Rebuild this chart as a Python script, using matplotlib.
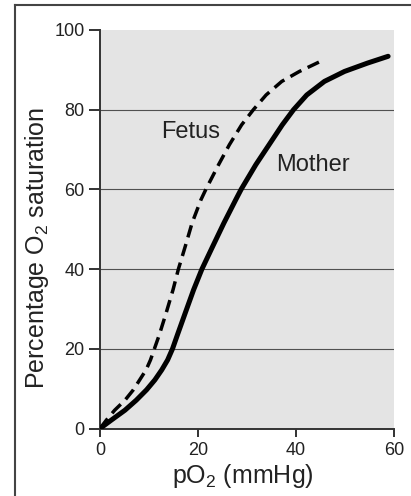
import matplotlib
matplotlib.use("Agg")
import matplotlib.pyplot as plt
from matplotlib.lines import Line2D

plt.rcParams['font.family'] = ['Liberation Sans', 'DejaVu Sans']
plt.rcParams['mathtext.fontset'] = 'custom'
plt.rcParams['mathtext.rm'] = 'Liberation Sans'
plt.rcParams['mathtext.it'] = 'Liberation Sans'
plt.rcParams['mathtext.default'] = 'regular'

# values
mother_po2 = [0, 2.3, 5.1, 7.4, 9.5, 11.2, 12.6, 13.8, 14.8, 15.8, 17.4, 19.1, 20.8,
              23.0, 25.3, 27.7, 28.8, 31.8, 34.5, 37.2, 39.5, 42.2, 45.8, 49.9, 54.6, 58.8]
mother_sat = [0, 2.1, 4.6, 7.1, 9.7, 12.2, 14.7, 17.2, 20, 23.5, 29, 34.8, 40,
              45.7, 51.6, 57.4, 60, 66.2, 71.2, 76.2, 80, 83.7, 87.1, 89.6, 91.7, 93.4]

fetus_po2 = [0, 1.3, 3.0, 5.1, 6.8, 8.1, 9.4, 10.3, 11.1, 12.1, 13.5, 14.9, 16.0,
             17.4, 18.8, 20.6, 21.6, 24.2, 26.4, 28.9, 31.3, 33.9, 37.1, 40.7, 45.8]
fetus_sat = [0, 2.1, 4.6, 7.1, 9.7, 12.2, 14.7, 17.2, 20, 23.5, 29, 34.8, 40,
             45.7, 51.6, 57.4, 60, 66.2, 71.2, 76.2, 80, 83.7, 87.1, 89.6, 92.6]

x_ticks = [0, 20, 40, 60]
y_ticks = [0, 20, 40, 60, 80, 100]
grid_levels = [20, 40, 60, 80]

fig = plt.figure(figsize=(4.11, 4.96), dpi=100)
ax = fig.add_axes([100/411, 1 - 428.5/496, 294/411, 398.5/496])
ax.set_facecolor('#e4e4e4')

for g in grid_levels:
    ax.axhline(g, color='#505050', lw=0.8, zorder=1)

ax.plot(fetus_po2, fetus_sat, color='black', lw=2.5, dashes=(3.6, 2.0),
        solid_capstyle='butt', zorder=3)
ax.plot(mother_po2, mother_sat, color='black', lw=3.6, solid_capstyle='round',
        solid_joinstyle='round', zorder=3)

ax.text(18.4, 74.5, 'Fetus', fontsize=17, color='#222222', ha='center', va='center')
ax.text(43.5, 66, 'Mother', fontsize=17, color='#222222', ha='center', va='center')

ax.set_xlim(0, 60)
ax.set_ylim(0, 100)
ax.set_xticks(x_ticks)
ax.set_yticks(y_ticks)
ax.tick_params(axis='y', length=8, width=1.3, labelsize=13, colors='#222222', pad=3)
ax.tick_params(axis='x', length=6, width=1.3, labelsize=13, colors='#222222', pad=4)
for s in ['top', 'right']:
    ax.spines[s].set_visible(False)
for s in ['left', 'bottom']:
    ax.spines[s].set_linewidth(1.4)
    ax.spines[s].set_color('#333333')

fig.text(37/411, 1 - 248/496, 'Percentage O$_2$ saturation', rotation=90,
         fontsize=18, color='#222222', ha='center', va='center')
fig.text(243/411, 1 - 476/496, 'pO$_2$ (mmHg)', fontsize=18, color='#222222',
         ha='center', va='center')

# outer frame of the figure panel
fig.add_artist(Line2D([15/411, 15/411], [0, 1 - 5/496], color='#444444', lw=1.5,
                      transform=fig.transFigure))
fig.add_artist(Line2D([15/411, 1], [1 - 5/496, 1 - 5/496], color='#444444', lw=1.5,
                      transform=fig.transFigure))

fig.savefig('out.png', dpi=100)
